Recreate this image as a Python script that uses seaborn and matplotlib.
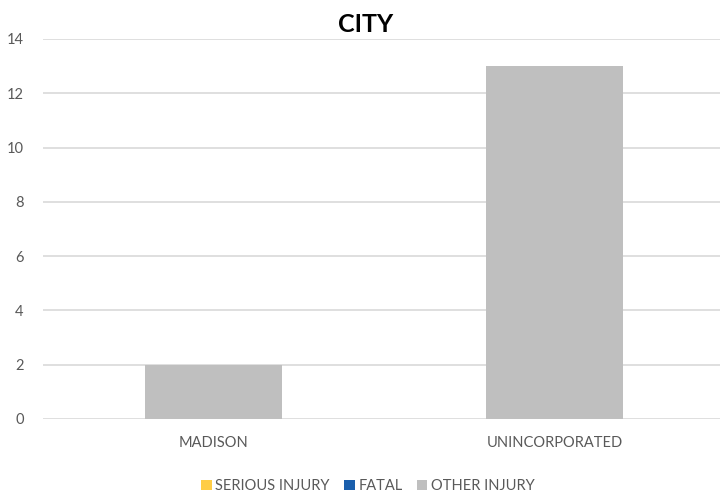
import pandas as pd
import matplotlib
matplotlib.use("Agg")
import matplotlib.pyplot as plt
import seaborn as sns
from matplotlib.patches import Patch

# ---------------- Data ----------------
cities = ["MADISON", "UNINCORPORATED"]
series = ["SERIOUS INJURY", "FATAL", "OTHER INJURY"]
serious_injury = [0, 0]
fatal = [0, 0]
other_injury = [2, 13]
colors = ["#ffcd46", "#1a5fad", "#bfbfbf"]

df = pd.DataFrame({
    "city": cities * 3,
    "series": [s for s in series for _ in cities],
    "value": serious_injury + fatal + other_injury,
})

# ---------------- Plot ----------------
sns.set_style("white")
plt.rcParams["font.family"] = ["Lato", "DejaVu Sans"]

fig = plt.figure(figsize=(7.2, 4.94), dpi=100)
ax = fig.add_axes([43 / 720, 1 - 419 / 494, 682 / 720, 380 / 494])

# stacked bars (lower series are zero, so overlapping from 0 is the stack)
sns.barplot(data=df, x="city", y="value", hue="series", hue_order=series,
            palette=colors, dodge=False, width=0.4, saturation=1,
            errorbar=None, legend=False, ax=ax, zorder=3, linewidth=0)

ax.set_xlim(-0.5, 1.5)
ax.set_ylim(0, 14)
ax.set_yticks(range(0, 15, 2))
ax.yaxis.grid(True, color="#d9d9d9", linewidth=1.2, zorder=0)
ax.set_axisbelow(True)
for sp in ax.spines.values():
    sp.set_visible(False)
ax.tick_params(axis="both", length=0, labelsize=10.5, colors="#595959")
ax.tick_params(axis="x", pad=12)
ax.tick_params(axis="y", pad=14)
ax.set_xlabel("")
ax.set_ylabel("")

fig.text(366 / 720, 1 - 25 / 494, "CITY", ha="center", va="center",
         fontsize=18, fontweight="bold", color="black")

handles = [Patch(facecolor=c, edgecolor="none") for c in colors]
fig.legend(handles, series, loc="center", bbox_to_anchor=(368 / 720, 1 - 486 / 494),
           ncol=3, frameon=False, fontsize=10.5, handlelength=0.7, handleheight=0.7,
           handletextpad=0.25, columnspacing=1.0, labelcolor="#595959")

plt.savefig("out.png", dpi=100)
